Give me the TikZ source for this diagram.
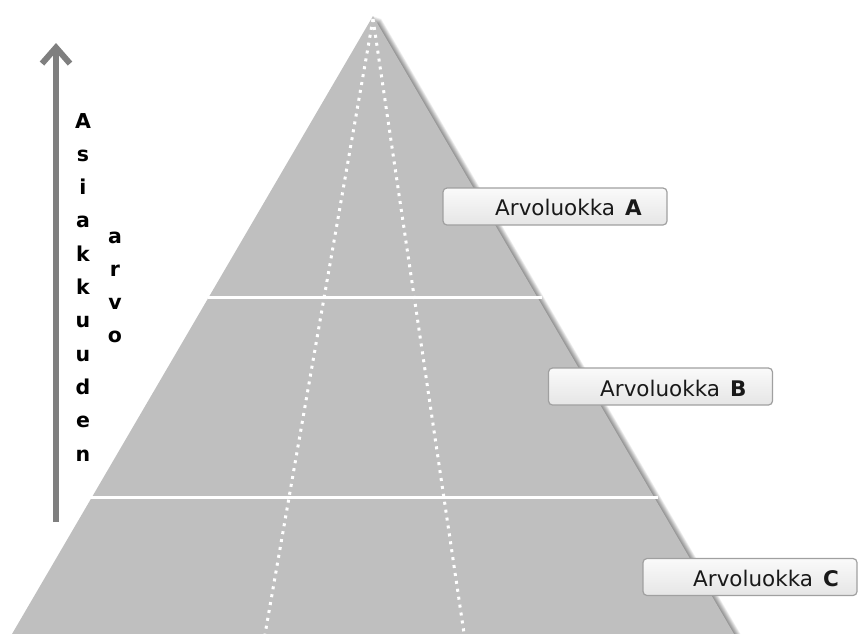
\documentclass[tikz,border=0pt]{standalone}
\usepackage{fontspec}
\setmainfont{DejaVu Sans}
\usetikzlibrary{arrows.meta}
\definecolor{pyrfill}{HTML}{BFBFBF}
\definecolor{axisgray}{HTML}{7F7F7F}
\definecolor{boxedge}{HTML}{A0A0A0}
\begin{document}
\begin{tikzpicture}[x=1pt,y=-1pt,
  layerline/.style={white,line width=3pt},
  dotline/.style={white,line width=3pt,dash pattern=on 3pt off 5pt},
  classbox/.style={draw=boxedge,line width=1.2pt,rounded corners=4pt,
    top color=white!98!black,bottom color=white!90!black,
    minimum width=224pt,minimum height=37pt,inner sep=0pt},
  classtext/.style={anchor=base west,inner sep=0pt,text=black!90,font=\fontsize{21.5}{25}\selectfont},
  vletter/.style={anchor=base,inner sep=0pt,font=\bfseries\fontsize{20.5}{24}\selectfont}]
\useasboundingbox (0,0) rectangle (858,633);

% pyramid corners
\coordinate (apex) at (373,16);
\coordinate (bl) at (8.5,640);
\coordinate (br) at (737.5,640);

% soft shadow on the right flank
\foreach \i in {1,...,9}
  \fill[black,opacity=0.06] ([shift={(\i*0.9,\i*0.3)}]apex)
    -- ([shift={(\i*0.9,\i*0.3)}]br) -- ([shift={(\i*0.9,\i*0.3)}]bl) -- cycle;

% pyramid body
\fill[pyrfill] (apex) -- (br) -- (bl) -- cycle;

% layer separators
\coordinate (l1a) at (208,297);
\coordinate (l1b) at (542,297);
\coordinate (l2a) at (91,497);
\coordinate (l2b) at (658,497);
\draw[layerline] (l1a) -- (l1b);
\draw[layerline] (l2a) -- (l2b);

% dotted segment lines
\coordinate (dtop) at (373,19);
\coordinate (dleft) at (264,640);
\coordinate (dright) at (465,640);
\draw[dotline] (dtop) -- (dleft);
\draw[dotline] (dtop) -- (dright);

% value axis
\coordinate (axisbottom) at (56,522);
\coordinate (axistop) at (56,43);
\draw[axisgray,line width=6pt,-{Straight Barb[length=16pt,width=28pt]}] (axisbottom) -- (axistop);

\foreach \ch [count=\k from 0] in {A,s,i,a,k,k,u,u,d,e,n}
  \node[vletter] (asi\k) at (83,128+33.3*\k) {\ch};
\foreach \ch [count=\k from 0] in {a,r,v,o}
  \node[vletter] (arv\k) at (115,243+33.3*\k) {\ch};

% value class labels
\node[classbox] (boxA) at (555,206.5) {};
\node[classbox] (boxB) at (660.5,386.5) {};
\node[classbox,minimum width=214pt] (boxC) at (750,577) {};
\node[classtext] (labA) at (495,215) {Arvoluokka\hspace{10pt}\textbf{A}};
\node[classtext] (labB) at (600,396) {Arvoluokka\hspace{10pt}\textbf{B}};
\node[classtext] (labC) at (693,586) {Arvoluokka\hspace{10pt}\textbf{C}};
\end{tikzpicture}
\end{document}
